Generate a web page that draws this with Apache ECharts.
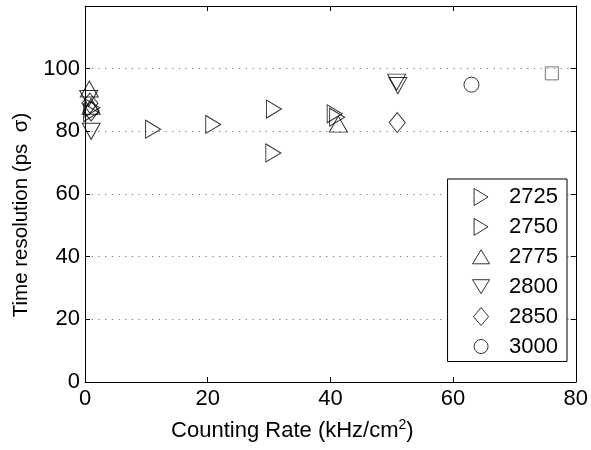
<!DOCTYPE html>
<html>
<head>
<meta charset="utf-8">
<script src="https://cdn.jsdelivr.net/npm/echarts@6/dist/echarts.min.js"></script>
<style>
html,body{margin:0;padding:0;background:#fff;}
#chart{width:591px;height:450px;}
</style>
</head>
<body>
<div id="chart"></div>
<script>
// Data (x: counting rate kHz/cm^2, y: time resolution ps)
var s2725 = [[1.2, 87.5], [11.1, 80.7], [20.9, 82.2], [30.7, 73.1]];
var s2750 = [[1.0, 86.0], [30.8, 87.1], [40.7, 85.6], [41.1, 84.5]];
var s2775 = [[0.7, 93.5], [1.0, 88.0], [41.3, 82.3]];
var s2800 = [[0.6, 90.5], [1.0, 80.0], [50.8, 95.7], [51.0, 94.6]];
var s2850 = [[0.8, 89.0], [1.0, 86.5], [50.9, 82.8]];
var s3000 = [[63.0, 94.9]];
var sSquare = [[76.1, 98.5]];
var legendNames = ['2725', '2750', '2775', '2800', '2850', '3000'];
var xTicks = [0, 20, 40, 60, 80];
var yTicks = [0, 20, 40, 60, 80, 100];

var FONT = 'Liberation Sans, Arial, sans-serif';
var chart = echarts.init(document.getElementById('chart'), null, {renderer: 'canvas'});

function hollow(color) {
  return {color: 'rgba(0,0,0,0)', borderColor: color, borderWidth: 1};
}
// marker shapes (series symbols) and legend icon outlines in an 18x18 frame
var FRAME = 'M0,0M18,18';
var shapes = {
  '2725': {symbol: 'triangle', size: [18, 15], rot: -90, icon: 'path://' + FRAME + 'M2,0.5L16,9L2,17.5Z'},
  '2750': {symbol: 'triangle', size: [18, 15], rot: -90, icon: 'path://' + FRAME + 'M2,0.5L16,9L2,17.5Z'},
  '2775': {symbol: 'triangle', size: [18, 16], rot: 0, icon: 'path://' + FRAME + 'M9,2L17.5,16L0.5,16Z'},
  '2800': {symbol: 'triangle', size: [18, 16], rot: 180, icon: 'path://' + FRAME + 'M0.5,2L17.5,2L9,16Z'},
  '2850': {symbol: 'diamond', size: [16, 20], rot: 0, icon: 'path://' + FRAME + 'M9,0L16.5,9L9,18L1.5,9Z'},
  '3000': {symbol: 'circle', size: 15, rot: 0, icon: 'path://' + FRAME + 'M16,9A7,7,0,1,1,2,9A7,7,0,1,1,16,9Z'}
};
function sc(name, data, symbol, size, rotate, color) {
  return {
    name: name, type: 'scatter', data: data, symbol: symbol, symbolSize: size,
    symbolRotate: rotate, itemStyle: hollow(color || '#000'),
    emphasis: {disabled: true}, animation: false, xAxisIndex: 0, yAxisIndex: 0
  };
}

var axisLine = {show: true, onZero: false, lineStyle: {color: '#000', width: 1}};
var tickIn = {show: true, inside: true, length: 5, lineStyle: {color: '#000', width: 1}};

var legendData = legendNames.map(function (n) {
  return {name: n, icon: shapes[n].icon, itemStyle: hollow('#000')};
});

var option = {
  backgroundColor: '#fff',
  animation: false,
  grid: {left: 85, right: 15, top: 6, bottom: 68, containLabel: false},
  xAxis: [{
    type: 'value', min: 0, max: 80, interval: 20, position: 'bottom',
    axisLine: axisLine, axisTick: tickIn,
    axisLabel: {color: '#000', fontSize: 22, fontFamily: FONT, margin: 6,
      formatter: function (v) { return xTicks.indexOf(v) >= 0 ? String(v) : ''; }},
    splitLine: {show: false},
    name: 'Counting Rate (kHz/cm{sup|2})', nameLocation: 'middle', nameGap: 36,
    nameTextStyle: {color: '#000', fontSize: 22, fontFamily: FONT, padding: [0, 76, 0, 0],
      rich: {sup: {fontSize: 14, fontFamily: FONT, color: '#000', verticalAlign: 'top', padding: [0, 0, 12, 0]}}}
  }, {
    type: 'value', min: 0, max: 80, interval: 20, position: 'top',
    axisLine: axisLine, axisTick: tickIn, axisLabel: {show: false}, splitLine: {show: false}
  }],
  yAxis: [{
    type: 'value', min: 0, max: 120, interval: 20, position: 'left',
    axisLine: axisLine, axisTick: tickIn,
    axisLabel: {color: '#000', fontSize: 22, fontFamily: FONT, margin: 5,
      formatter: function (v) { return yTicks.indexOf(v) >= 0 ? String(v) : ''; }},
    splitLine: {show: true, lineStyle: {color: '#777', width: 1, type: [1.2, 5.5]}},
    name: 'Time resolution (ps  \u03c3)', nameLocation: 'middle', nameGap: 53,
    nameTextStyle: {color: '#000', fontSize: 20.5, fontFamily: FONT, padding: [0, 42, 0, 0]}
  }, {
    type: 'value', min: 0, max: 120, interval: 20, position: 'right',
    axisLine: axisLine, axisTick: tickIn, axisLabel: {show: false}, splitLine: {show: false}
  }],
  legend: {
    data: legendData,
    orient: 'vertical', right: 24, top: 179,
    itemWidth: 18, itemHeight: 18, itemGap: 7.9,
    symbolKeepAspect: true,
    backgroundColor: '#fff', borderColor: '#000', borderWidth: 1, borderRadius: 0,
    padding: [7, 9, 4, 24],
    selectedMode: false,
    textStyle: {color: '#000', fontSize: 22, fontFamily: FONT, lineHeight: 21, padding: [0, 0, 0, 14]},
    itemStyle: hollow('#000')
  },
  series: [
    sc('2725', s2725, shapes['2725'].symbol, shapes['2725'].size, shapes['2725'].rot),
    sc('2750', s2750, shapes['2750'].symbol, shapes['2750'].size, shapes['2750'].rot),
    sc('2775', s2775, shapes['2775'].symbol, shapes['2775'].size, shapes['2775'].rot),
    sc('2800', s2800, shapes['2800'].symbol, shapes['2800'].size, shapes['2800'].rot),
    sc('2850', s2850, shapes['2850'].symbol, shapes['2850'].size, shapes['2850'].rot),
    sc('3000', s3000, shapes['3000'].symbol, shapes['3000'].size, shapes['3000'].rot),
    sc('square', sSquare, 'rect', 13, 0, '#555')
  ]
};
chart.setOption(option);
</script>
</body>
</html>
